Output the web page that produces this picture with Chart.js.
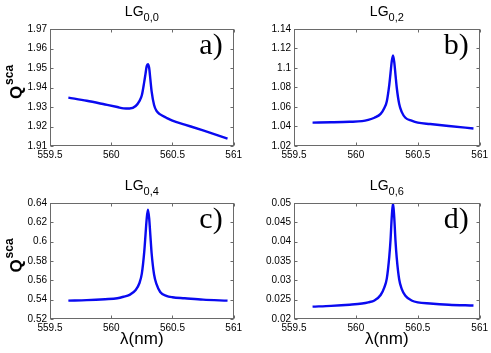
<!DOCTYPE html>
<html>
<head>
<meta charset="utf-8">
<script src="https://cdn.jsdelivr.net/npm/chart.js@4"></script>
<style>
  body { margin: 0; background: #fff; }
  #wrap { position: relative; width: 491px; height: 353px; overflow: hidden; }
  .pn { position: absolute; }
</style>
</head>
<body>
<div id="wrap">
  <canvas id="pa" class="pn" width="245" height="176" style="left:0;top:0"></canvas>
  <canvas id="pb" class="pn" width="246" height="176" style="left:245px;top:0"></canvas>
  <canvas id="pc" class="pn" width="245" height="177" style="left:0;top:176px"></canvas>
  <canvas id="pd" class="pn" width="246" height="177" style="left:245px;top:176px"></canvas>
</div>
<script>
// wavelength (nm)
var lambda = [559.65, 559.8, 559.95, 560.05, 560.1, 560.15, 560.2, 560.23, 560.25, 560.27, 560.28, 560.29,
	560.3, 560.31, 560.32, 560.33, 560.35, 560.37, 560.4, 560.45, 560.5, 560.6, 560.75, 560.95];

var qa = [1.9348, 1.9332, 1.9313, 1.9300, 1.9293, 1.9292, 1.9305, 1.9330, 1.9360, 1.9430, 1.9470, 1.9510,
	1.9520, 1.9500, 1.9440, 1.9380, 1.9310, 1.9280, 1.9262, 1.9245, 1.9230, 1.9210, 1.9180, 1.9138];
var qb = [1.0440, 1.0443, 1.0448, 1.0455, 1.0468, 1.0490, 1.0530, 1.0590, 1.0660, 1.0830, 1.0950, 1.1070,
	1.1130, 1.1060, 1.0930, 1.0800, 1.0630, 1.0550, 1.0490, 1.0460, 1.0440, 1.0425, 1.0405, 1.0380];
var qc = [0.5390, 0.5395, 0.5405, 0.5415, 0.5430, 0.5450, 0.5500, 0.5570, 0.5670, 0.5900, 0.6070, 0.6240,
	0.6330, 0.6240, 0.6060, 0.5880, 0.5660, 0.5560, 0.5480, 0.5440, 0.5425, 0.5415, 0.5400, 0.5390];
var qd = [0.0232, 0.0234, 0.0237, 0.0240, 0.0243, 0.0248, 0.0262, 0.0282, 0.0305, 0.0362, 0.0405, 0.0465,
	0.0500, 0.0462, 0.0402, 0.0358, 0.0302, 0.0278, 0.0260, 0.0248, 0.0243, 0.0240, 0.0237, 0.0235];

var xTicks = [559.5, 560, 560.5, 561];
var xTickLabels = ['559.5', '560', '560.5', '561'];

var yTicksA = [1.91, 1.92, 1.93, 1.94, 1.95, 1.96, 1.97];
var yLabelsA = ['1.91', '1.92', '1.93', '1.94', '1.95', '1.96', '1.97'];
var yTicksB = [1.02, 1.04, 1.06, 1.08, 1.1, 1.12, 1.14];
var yLabelsB = ['1.02', '1.04', '1.06', '1.08', '1.1', '1.12', '1.14'];
var yTicksC = [0.52, 0.54, 0.56, 0.58, 0.6, 0.62, 0.64];
var yLabelsC = ['0.52', '0.54', '0.56', '0.58', '0.6', '0.62', '0.64'];
var yTicksD = [0.02, 0.025, 0.03, 0.035, 0.04, 0.045, 0.05];
var yLabelsD = ['0.02', '0.025', '0.03', '0.035', '0.04', '0.045', '0.05'];

var titleSubs = ['0,0', '0,2', '0,4', '0,6'];
var letters = ['a)', 'b)', 'c)', 'd)'];

var FONT = '"Liberation Sans", Arial, sans-serif';

// box, inward ticks, titles and labels (matlab look)
var decoPlugin = {
	id: 'deco',
	afterDraw: function (chart) {
		var o = chart.options.plugins.deco;
		var ctx = chart.ctx;
		var a = chart.chartArea;
		var L = Math.round(a.left) + 0.5, R = Math.round(a.right) - 0.5;
		var T = Math.round(a.top) + 0.5, B = Math.round(a.bottom) - 0.5;
		ctx.save();
		ctx.strokeStyle = '#6a6a6a';
		ctx.lineWidth = 1;
		ctx.strokeRect(L, T, R - L, B - T);
		ctx.beginPath();
		chart.scales.x.ticks.forEach(function (t) {
			var px = Math.round(chart.scales.x.getPixelForValue(t.value)) + 0.5;
			ctx.moveTo(px, B); ctx.lineTo(px, B - 3);
			ctx.moveTo(px, T); ctx.lineTo(px, T + 3);
		});
		chart.scales.y.ticks.forEach(function (t) {
			var py = Math.round(chart.scales.y.getPixelForValue(t.value)) + 0.5;
			ctx.moveTo(L, py); ctx.lineTo(L + 3, py);
			ctx.moveTo(R, py); ctx.lineTo(R - 3, py);
		});
		ctx.stroke();

		// title LG_sub
		var cx = (a.left + a.right) / 2;
		ctx.fillStyle = '#000';
		ctx.font = '14px ' + FONT;
		var w1 = ctx.measureText('LG').width;
		ctx.font = '11px ' + FONT;
		var w2 = ctx.measureText(o.sub).width;
		var x0 = cx - (w1 + w2) / 2;
		ctx.textAlign = 'left';
		ctx.textBaseline = 'alphabetic';
		ctx.font = '14px ' + FONT;
		ctx.fillText('LG', x0, a.top - 13);
		ctx.font = '11px ' + FONT;
		ctx.fillText(o.sub, x0 + w1, a.top - 8);

		// panel letter
		ctx.font = '30px "Liberation Serif", "Times New Roman", serif';
		ctx.textAlign = 'right';
		ctx.fillText(o.letter, a.right - 11, a.top + 25);

		// y label Q^sca
		if (o.ylab) {
			ctx.save();
			ctx.translate(22, (a.top + a.bottom) / 2 - 5);
			ctx.rotate(-Math.PI / 2);
			ctx.textAlign = 'left';
			ctx.font = 'bold 17px ' + FONT;
			var wq = ctx.measureText('Q').width;
			ctx.font = 'bold 12px ' + FONT;
			var ws = ctx.measureText('sca').width;
			var s = -(wq + ws) / 2;
			ctx.font = 'bold 17px ' + FONT;
			ctx.fillText('Q', s, 0);
			ctx.font = 'bold 12px ' + FONT;
			ctx.fillText('sca', s + wq + 1, -9);
			ctx.restore();
		}
		// x label
		if (o.xlab) {
			ctx.font = '17px ' + FONT;
			ctx.textAlign = 'center';
			ctx.fillText('\u03bb(nm)', cx, a.bottom + 25);
		}
		ctx.restore();
	}
};

function makePanel(id, ys, yTicks, yLabels, idx, yw, padTop, padRight, xh, ylab, xlab) {
	var pts = [];
	for (var i = 0; i < lambda.length; i++) {
		pts.push({ x: lambda[i], y: ys[i] });
	}
	var ctx = document.getElementById(id).getContext('2d');
	return new Chart(ctx, {
		type: 'line',
		data: {
			datasets: [{
				data: pts,
				borderColor: '#0a0af0',
				borderWidth: 2.4,
				pointRadius: 0,
				fill: false,
				cubicInterpolationMode: 'monotone'
			}]
		},
		options: {
			responsive: false,
			animation: false,
			devicePixelRatio: 1,
			layout: { padding: { top: padTop, right: padRight, left: 0, bottom: 0 } },
			plugins: {
				legend: { display: false },
				tooltip: { enabled: false },
				deco: { sub: titleSubs[idx], letter: letters[idx], ylab: ylab, xlab: xlab }
			},
			scales: {
				x: {
					type: 'linear',
					min: xTicks[0],
					max: xTicks[xTicks.length - 1],
					grid: { display: false, drawTicks: false },
					border: { display: false },
					afterBuildTicks: function (s) { s.ticks = xTicks.map(function (v) { return { value: v }; }); },
					afterFit: function (s) { s.height = xh; },
					ticks: {
						padding: 3,
						maxRotation: 0,
						autoSkip: false,
						color: '#000',
						font: { family: FONT, size: 10 },
						callback: function (v, i) { return xTickLabels[i]; }
					}
				},
				y: {
					type: 'linear',
					min: yTicks[0],
					max: yTicks[yTicks.length - 1],
					grid: { display: false, drawTicks: false },
					border: { display: false },
					afterBuildTicks: function (s) { s.ticks = yTicks.map(function (v) { return { value: v }; }); },
					afterFit: function (s) { s.width = yw; },
					ticks: {
						padding: 3,
						autoSkip: false,
						color: '#000',
						font: { family: FONT, size: 10 },
						callback: function (v, i) { return yLabels[i]; }
					}
				}
			}
		},
		plugins: [decoPlugin]
	});
}

makePanel('pa', qa, yTicksA, yLabelsA, 0, 50, 29, 10, 30, true, false);
makePanel('pb', qb, yTicksB, yLabelsB, 1, 49, 29, 11, 30, false, false);
makePanel('pc', qc, yTicksC, yLabelsC, 2, 50, 27, 10, 34, true, true);
makePanel('pd', qd, yTicksD, yLabelsD, 3, 49, 27, 11, 34, false, true);
</script>
</body>
</html>
